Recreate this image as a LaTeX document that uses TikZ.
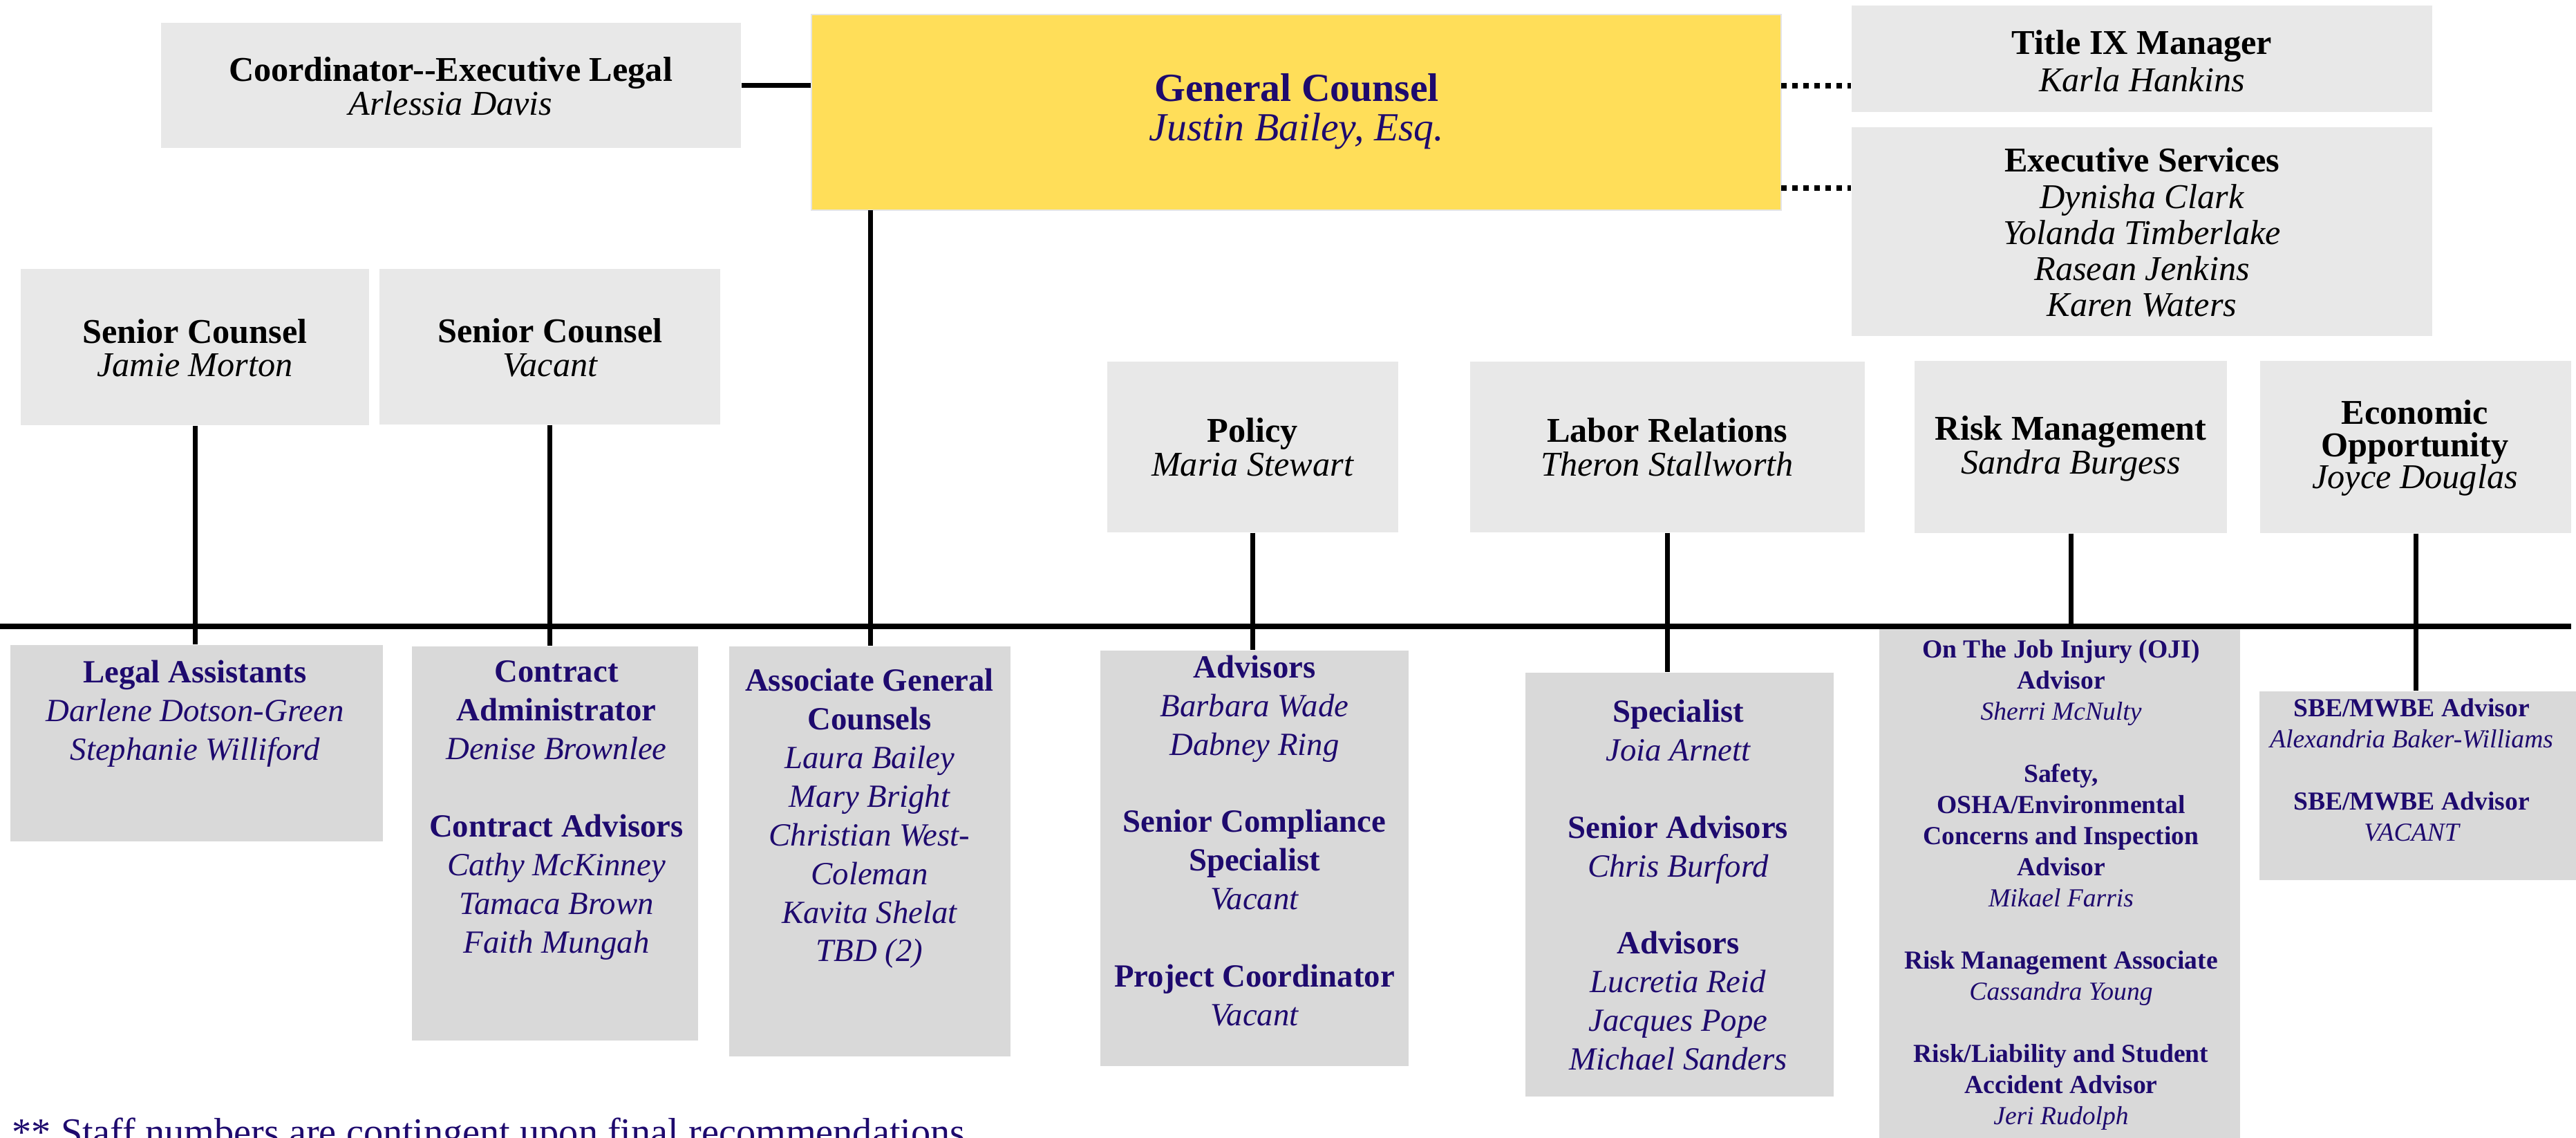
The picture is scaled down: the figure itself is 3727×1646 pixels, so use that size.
\documentclass[tikz,border=0pt]{standalone}
\usepackage{fontspec}
\setmainfont{Liberation Serif}
\usetikzlibrary{fit}
\definecolor{navy}{HTML}{1E0A6E}
\definecolor{gcyellow}{HTML}{FFDE59}
\definecolor{topgray}{HTML}{E8E8E8}
\definecolor{botgray}{HTML}{D9D9D9}
\newcommand\orghd[1]{{\upshape\bfseries #1}}
\newcommand\orgnm[1]{{\itshape #1}}
\begin{document}
\begin{tikzpicture}[x=0.01cm,y=-0.01cm,
  topbox/.style={fill=topgray, inner sep=0pt, draw=none},
  botbox/.style={fill=botgray, inner sep=0pt, draw=none},
  gcbox/.style={fill=gcyellow, draw=black!10, line width=0.02cm, inner sep=0pt},
  ttext/.style={align=center, inner sep=0pt, text=black, font=\fontsize{14.3}{14}\selectfont},
  gctext/.style={align=center, inner sep=0pt, text=navy, font=\fontsize{16.4}{16.2}\selectfont},
  btext/.style={align=center, inner sep=0pt, text=navy, font=\fontsize{13.3}{15.9}\selectfont},
  stext/.style={align=center, inner sep=0pt, text=navy, font=\fontsize{10.7}{12.8}\selectfont},
  conn/.style={line width=0.07cm, draw=black},
  dotline/.style={line width=0.08cm, draw=black, dash pattern=on 0.08cm off 0.08cm}
]
\useasboundingbox (0,0) rectangle (3727,1646);
\clip (0,0) rectangle (3727,1646);

% ---------- boxes ----------
\node[topbox, fit={(233,33) (1072,214)}] (coord) {};
\node[gcbox, fit={(1174,21) (2577,304)}] (gc) {};
\node[topbox, fit={(2679,8) (3519,162)}] (tix) {};
\node[topbox, fit={(2679,184) (3519,486)}] (exec) {};
\node[topbox, fit={(30,389) (534,615)}] (sc1) {};
\node[topbox, fit={(549,389) (1042,614)}] (sc2) {};
\node[topbox, fit={(1602,523) (2023,770)}] (pol) {};
\node[topbox, fit={(2127,523) (2698,770)}] (lab) {};
\node[topbox, fit={(2770,522) (3222,771)}] (risk) {};
\node[topbox, fit={(3270,522) (3720,771)}] (econ) {};

\node[botbox, fit={(15,933) (554,1217)}] (la) {};
\node[botbox, fit={(596,935) (1010,1505)}] (ca) {};
\node[botbox, fit={(1055,935) (1462,1528)}] (agc) {};
\node[botbox, fit={(1592,941) (2038,1542)}] (polb) {};
\node[botbox, fit={(2207,973) (2653,1586)}] (labb) {};
\node[botbox, fit={(2719,909) (3241,1700)}] (riskb) {};
\node[botbox, fit={(3269,1000) (3727,1273)}] (sbe) {};

% ---------- texts ----------
\node[ttext] (coordT) at (652,125) {\orghd{Coordinator-{}-Executive Legal}\\\orgnm{Arlessia Davis}};
\node[gctext] (gcT) at (1876,161) {\orghd{General Counsel}\\\orgnm{Justin Bailey, Esq.}};
\node[ttext, font=\fontsize{14.3}{15.4}\selectfont] (tixT) at (3099,88) {\orghd{Title IX Manager}\\\orgnm{Karla Hankins}};
\node[ttext, font=\fontsize{14.3}{14.8}\selectfont] (execT) at (3099,336) {\orghd{Executive Services}\\\orgnm{Dynisha Clark}\\\orgnm{Yolanda Timberlake}\\\orgnm{Rasean Jenkins}\\\orgnm{Karen Waters}};
\node[ttext, font=\fontsize{14.3}{13.7}\selectfont] (sc1T) at (282,503) {\orghd{Senior Counsel}\\\orgnm{Jamie Morton}};
\node[ttext, font=\fontsize{14.3}{13.7}\selectfont] (sc2T) at (796,503) {\orghd{Senior Counsel}\\\orgnm{Vacant}};
\node[ttext] (polT) at (1812,647) {\orghd{Policy}\\\orgnm{Maria Stewart}};
\node[ttext] (labT) at (2412,647) {\orghd{Labor Relations}\\\orgnm{Theron Stallworth}};
\node[ttext, font=\fontsize{14.3}{12.9}\selectfont] (riskT) at (2996,649) {\orghd{Risk Management}\\\orgnm{Sandra Burgess}};
\node[ttext, font=\fontsize{14.3}{13.2}\selectfont] (econT) at (3494,648) {\orghd{Economic}\\\orghd{Opportunity}\\\orgnm{Joyce Douglas}};

\node[btext] (laT) at (282,1032) {\orghd{Legal Assistants}\\\orgnm{Darlene Dotson-Green}\\\orgnm{Stephanie Williford}};
\node[btext] (caT) at (805,1172) {\orghd{Contract}\\\orghd{Administrator}\\\orgnm{Denise Brownlee}\\[15.9pt]\orghd{Contract Advisors}\\\orgnm{Cathy McKinney}\\\orgnm{Tamaca Brown}\\\orgnm{Faith Mungah}};
\node[btext] (agcT) at (1258,1184) {\orghd{Associate General}\\\orghd{Counsels}\\\orgnm{Laura Bailey}\\\orgnm{Mary Bright}\\\orgnm{Christian West-}\\\orgnm{Coleman}\\\orgnm{Kavita Shelat}\\\orgnm{TBD (2)}};
\node[btext] (polbT) at (1815,1216) {\orghd{Advisors}\\\orgnm{Barbara Wade}\\\orgnm{Dabney Ring}\\[15.9pt]\orghd{Senior Compliance}\\\orghd{Specialist}\\\orgnm{Vacant}\\[15.9pt]\orghd{Project Coordinator}\\\orgnm{Vacant}};
\node[btext] (labbT) at (2428,1280) {\orghd{Specialist}\\\orgnm{Joia Arnett}\\[15.9pt]\orghd{Senior Advisors}\\\orgnm{Chris Burford}\\[15.9pt]\orghd{Advisors}\\\orgnm{Lucretia Reid}\\\orgnm{Jacques Pope}\\\orgnm{Michael Sanders}};
\node[stext] (riskbT) at (2982,1280) {\orghd{On The Job Injury (OJI)}\\\orghd{Advisor}\\\orgnm{Sherri McNulty}\\[12.8pt]\orghd{Safety,}\\\orghd{OSHA/Environmental}\\\orghd{Concerns and Inspection}\\\orghd{Advisor}\\\orgnm{Mikael Farris}\\[12.8pt]\orghd{Risk Management Associate}\\\orgnm{Cassandra Young}\\[12.8pt]\orghd{Risk/Liability and Student}\\\orghd{Accident Advisor}\\\orgnm{Jeri Rudolph}};
\node[stext] (sbeT) at (3489,1114) {\orghd{SBE/MWBE Advisor}\\\orgnm{Alexandria Baker-Williams}\\[12.8pt]\orghd{SBE/MWBE Advisor}\\\orgnm{VACANT}};

\node[anchor=base west, inner sep=0pt, text=navy, font=\fontsize{16}{18}\selectfont] (foot) at (17,1656) {** Staff numbers are contingent upon final recommendations};

% ---------- connectors ----------
\draw[conn] (coord.east) -- (coord.east -| gc.west);
\coordinate (d1) at (2577,124);
\coordinate (d2) at (2577,272);
\draw[dotline] (d1) -- (d1 -| tix.west);
\draw[dotline] (d2) -- (d2 -| exec.west);

\coordinate (busL) at (0,906);
\coordinate (busR) at (3720,906);
\draw[conn, line width=0.08cm] (busL) -- (busR);

\coordinate (g1) at (1259,304);
\draw[conn] (g1) -- (g1 |- agc.north);
\draw[conn] (sc1.south) -- (sc1.south |- la.north);
\draw[conn] (sc2.south) -- (sc2.south |- ca.north);
\draw[conn] (pol.south) -- (pol.south |- polb.north);
\draw[conn] (lab.south) -- (lab.south |- labb.north);
\draw[conn] (risk.south) -- (risk.south |- riskb.north);
\draw[conn] (econ.south) -- (econ.south |- sbe.north);
\end{tikzpicture}
\end{document}
